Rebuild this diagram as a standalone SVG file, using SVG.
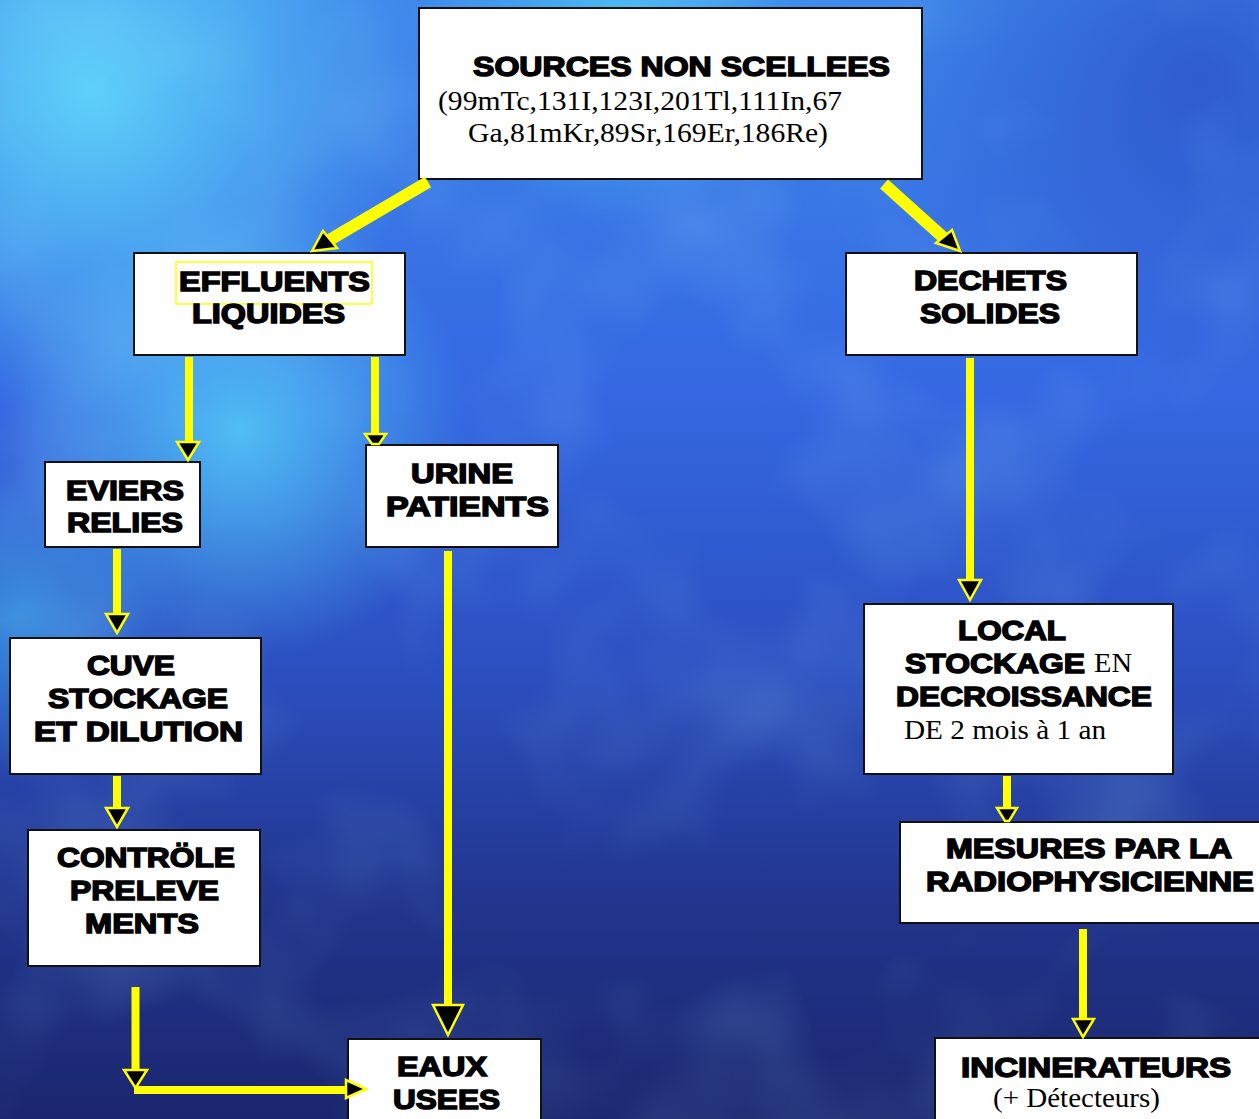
<svg xmlns="http://www.w3.org/2000/svg" width="1259" height="1119" viewBox="0 0 1259 1119">
  <defs>
    <linearGradient id="bgBase" x1="0" y1="0" x2="0" y2="1">
      <stop offset="0" stop-color="#3d86ea"/>
      <stop offset="0.35" stop-color="#3568e2"/>
      <stop offset="0.6" stop-color="#2c4fc0"/>
      <stop offset="0.8" stop-color="#22368f"/>
      <stop offset="1" stop-color="#1b266e"/>
    </linearGradient>
    <radialGradient id="glowA" cx="90" cy="90" r="330" gradientUnits="userSpaceOnUse">
      <stop offset="0" stop-color="#5fd4fa" stop-opacity="0.95"/>
      <stop offset="1" stop-color="#5fd4fa" stop-opacity="0"/>
    </radialGradient>
    <radialGradient id="glowB" cx="240" cy="430" r="230" gradientUnits="userSpaceOnUse">
      <stop offset="0" stop-color="#55cdf8" stop-opacity="0.85"/>
      <stop offset="1" stop-color="#55cdf8" stop-opacity="0"/>
    </radialGradient>
    <radialGradient id="glowC" cx="620" cy="20" r="200" gradientUnits="userSpaceOnUse">
      <stop offset="0" stop-color="#4fc6f5" stop-opacity="0.8"/>
      <stop offset="1" stop-color="#4fc6f5" stop-opacity="0"/>
    </radialGradient>
    <radialGradient id="glowD" cx="20" cy="620" r="160" gradientUnits="userSpaceOnUse">
      <stop offset="0" stop-color="#3fa6e8" stop-opacity="0.7"/>
      <stop offset="1" stop-color="#3fa6e8" stop-opacity="0"/>
    </radialGradient>
    <radialGradient id="shadeR" cx="1200" cy="80" r="320" gradientUnits="userSpaceOnUse">
      <stop offset="0" stop-color="#2a4cc4" stop-opacity="0.7"/>
      <stop offset="1" stop-color="#2a4cc4" stop-opacity="0"/>
    </radialGradient>
    <filter id="clouds" x="0" y="0" width="100%" height="100%">
      <feTurbulence type="fractalNoise" baseFrequency="0.005" numOctaves="3" seed="7"/>
      <feColorMatrix values="0 0 0 0 0.35  0 0 0 0 0.75  0 0 0 0 1  1.3 0 0 0 -0.6"/>
    </filter>
    <style>
      .box { fill: #ffffff; stroke: #111111; stroke-width: 2; }
      .flow { stroke: #ffff00; stroke-width: 8; fill: none; stroke-linecap: butt; }
      .flowWide { stroke: #ffff00; stroke-width: 12; fill: none; }
      .head { fill: #000000; stroke: #ffff00; stroke-width: 2.5; stroke-linejoin: miter; }
      .bold { font-family: "Liberation Sans", Arial, sans-serif; font-weight: bold; font-size: 28px; fill: #000; stroke: #000; stroke-width: 1.5; }
      .serif { font-family: "Liberation Serif", "Times New Roman", serif; font-size: 27px; fill: #000; }
    </style>
  </defs>

  <!-- background -->
  <rect width="1259" height="1119" fill="url(#bgBase)"/>
  <rect width="1259" height="1119" fill="url(#shadeR)"/>
  <rect width="1259" height="1119" fill="url(#glowA)"/>
  <rect width="1259" height="1119" fill="url(#glowB)"/>
  <rect width="1259" height="1119" fill="url(#glowC)"/>
  <rect width="1259" height="1119" fill="url(#glowD)"/>
  <rect width="1259" height="1119" filter="url(#clouds)" opacity="0.35"/>

  <!-- nodes -->
  <g id="sources">
    <rect class="box" x="419" y="8" width="503" height="171"/>
    <text class="bold" x="473" y="76" textLength="417" lengthAdjust="spacingAndGlyphs">SOURCES NON SCELLEES</text>
    <text class="serif" x="438" y="110" textLength="404" lengthAdjust="spacingAndGlyphs">(99mTc,131I,123I,201Tl,111In,67</text>
    <text class="serif" x="468" y="142" textLength="360" lengthAdjust="spacingAndGlyphs">Ga,81mKr,89Sr,169Er,186Re)</text>
  </g>

  <g id="effluents">
    <rect class="box" x="134" y="253" width="271" height="102"/>
    <rect x="176" y="262" width="196" height="42" fill="none" stroke="#ffff00" stroke-width="1.5"/>
    <text class="bold" x="179" y="291" textLength="191" lengthAdjust="spacingAndGlyphs">EFFLUENTS</text>
    <text class="bold" x="192" y="323" textLength="153" lengthAdjust="spacingAndGlyphs">LIQUIDES</text>
  </g>

  <g id="dechets">
    <rect class="box" x="846" y="253" width="291" height="102"/>
    <text class="bold" x="914" y="290" textLength="153" lengthAdjust="spacingAndGlyphs">DECHETS</text>
    <text class="bold" x="920" y="323" textLength="140" lengthAdjust="spacingAndGlyphs">SOLIDES</text>
  </g>

  <g id="eviers">
    <rect class="box" x="45" y="462" width="155" height="85"/>
    <text class="bold" x="66" y="500" textLength="118" lengthAdjust="spacingAndGlyphs">EVIERS</text>
    <text class="bold" x="67" y="532" textLength="116" lengthAdjust="spacingAndGlyphs">RELIES</text>
  </g>

  <g id="urine">
    <rect class="box" x="366" y="445" width="192" height="102"/>
    <text class="bold" x="411" y="483" textLength="102" lengthAdjust="spacingAndGlyphs">URINE</text>
    <text class="bold" x="386" y="516" textLength="163" lengthAdjust="spacingAndGlyphs">PATIENTS</text>
  </g>

  <g id="cuve">
    <rect class="box" x="10" y="638" width="251" height="136"/>
    <text class="bold" x="87" y="675" textLength="88" lengthAdjust="spacingAndGlyphs">CUVE</text>
    <text class="bold" x="48" y="708" textLength="180" lengthAdjust="spacingAndGlyphs">STOCKAGE</text>
    <text class="bold" x="34" y="741" textLength="209" lengthAdjust="spacingAndGlyphs">ET DILUTION</text>
  </g>

  <g id="controle">
    <rect class="box" x="28" y="830" width="232" height="136"/>
    <text class="bold" x="57" y="867" textLength="178" lengthAdjust="spacingAndGlyphs">CONTRÖLE</text>
    <text class="bold" x="70" y="900" textLength="149" lengthAdjust="spacingAndGlyphs">PRELEVE</text>
    <text class="bold" x="85" y="933" textLength="114" lengthAdjust="spacingAndGlyphs">MENTS</text>
  </g>

  <g id="eaux">
    <rect class="box" x="348" y="1039" width="193" height="90"/>
    <text class="bold" x="397" y="1076" textLength="90" lengthAdjust="spacingAndGlyphs">EAUX</text>
    <text class="bold" x="393" y="1109" textLength="107" lengthAdjust="spacingAndGlyphs">USEES</text>
  </g>

  <g id="local">
    <rect class="box" x="864" y="604" width="309" height="170"/>
    <text class="bold" x="958" y="640" textLength="108" lengthAdjust="spacingAndGlyphs">LOCAL</text>
    <text class="bold" x="905" y="673" textLength="180" lengthAdjust="spacingAndGlyphs">STOCKAGE</text>
    <text class="serif" x="1094" y="672" textLength="38" lengthAdjust="spacingAndGlyphs">EN</text>
    <text class="bold" x="896" y="706" textLength="256" lengthAdjust="spacingAndGlyphs">DECROISSANCE</text>
    <text class="serif" x="904" y="739" textLength="202" lengthAdjust="spacingAndGlyphs">DE 2 mois à 1 an</text>
  </g>

  <g id="mesures">
    <rect class="box" x="900" y="822" width="370" height="101"/>
    <text class="bold" x="946" y="858" textLength="286" lengthAdjust="spacingAndGlyphs">MESURES PAR LA</text>
    <text class="bold" x="926" y="891" textLength="328" lengthAdjust="spacingAndGlyphs">RADIOPHYSICIENNE</text>
  </g>

  <g id="incinerateurs">
    <rect class="box" x="935" y="1038" width="335" height="91"/>
    <text class="bold" x="961" y="1077" textLength="270" lengthAdjust="spacingAndGlyphs">INCINERATEURS</text>
    <text class="serif" x="993" y="1107" textLength="167" lengthAdjust="spacingAndGlyphs">(+ Détecteurs)</text>
  </g>

  <!-- connectors: yellow shafts with black, yellow-rimmed heads -->
  <g id="connectors">
    <line class="flowWide" x1="428" y1="182" x2="326" y2="242"/>
    <polygon class="head" points="312,251 323,231 337,248"/>
    <line class="flowWide" x1="884" y1="184" x2="945" y2="239"/>
    <polygon class="head" points="936,243 952,230 960,251"/>

    <line class="flow" x1="189" y1="357" x2="189" y2="444"/>
    <polygon class="head" points="177,442 199,442 188,460"/>
    <line class="flow" x1="375" y1="357" x2="375" y2="436"/>
    <polygon class="head" points="365,434 386,434 379,444 372,444"/>

    <line class="flow" x1="117" y1="549" x2="117" y2="616"/>
    <polygon class="head" points="106,614 128,614 117,633"/>
    <line class="flow" x1="117" y1="776" x2="117" y2="810"/>
    <polygon class="head" points="106,808 128,808 117,827"/>

    <line class="flow" x1="135.5" y1="987" x2="135.5" y2="1072"/>
    <polygon class="head" points="124,1070 147,1070 135.5,1088"/>
    <line class="flow" x1="134" y1="1090" x2="348" y2="1090"/>
    <polygon class="head" points="346,1080 346,1098 366,1089"/>

    <line class="flow" x1="448" y1="551" x2="448" y2="1006"/>
    <polygon class="head" points="433,1005 463,1005 448,1035"/>

    <line class="flow" x1="970" y1="358" x2="970" y2="582"/>
    <polygon class="head" points="959,580 981,580 970,600"/>
    <line class="flow" x1="1007" y1="776" x2="1007" y2="810"/>
    <polygon class="head" points="997,808 1017,808 1009,821 1005,821"/>
    <line class="flow" x1="1083" y1="929" x2="1083" y2="1021"/>
    <polygon class="head" points="1073,1019 1094,1019 1083,1037"/>
  </g>
</svg>
